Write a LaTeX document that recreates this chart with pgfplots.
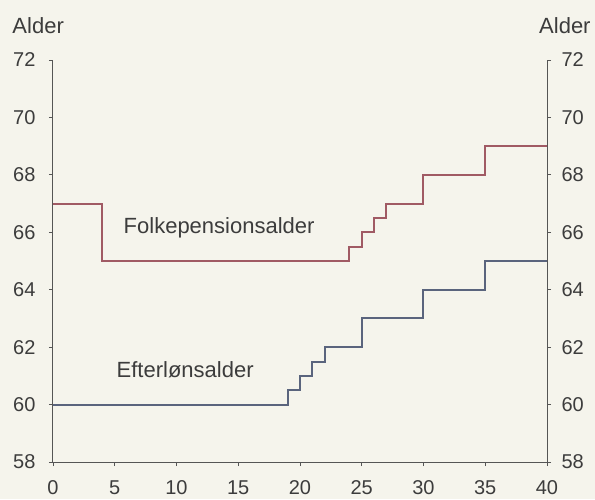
\documentclass[border=0pt]{standalone}
\usepackage{pgfplots}
\pgfplotsset{compat=1.18}
\usepackage{fontspec}
\setmainfont{Liberation Sans}
\definecolor{bg}{RGB}{245,244,236}
\definecolor{folk}{RGB}{160,90,100}
\definecolor{eft}{RGB}{90,100,125}
\definecolor{axc}{RGB}{85,85,85}
\definecolor{txt}{RGB}{60,60,60}
\begin{document}
\begin{tikzpicture}[x=1pt,y=1pt]
\fill[bg] (-53,-37) rectangle (542,462);
\pgfplotsset{
  common/.style={
    scale only axis, width=494pt, height=402pt,
    xmin=0, xmax=40, ymin=58, ymax=72,
    ytick={58,60,...,72},
    tick align=outside, major tick length=4pt,
    every tick/.style={axc, line width=0.8pt},
    axis line style={axc, line width=1pt},
    tick label style={font=\fontsize{20}{24}\selectfont, text=txt},
    /pgf/number format/assume math mode=true,
    clip=false,
  }
}
\begin{axis}[common,
  axis x line*=bottom, axis y line*=left,
  xtick={0,5,...,40},
  xticklabel style={yshift=-11pt},
  yticklabel style={xshift=-10pt},
]
\addplot[folk, line width=2pt, const plot, line join=miter] coordinates {
 (0,67) (4,65) (24,65.5) (25,66) (26,66.5) (27,67) (30,68) (35,69) (40,69)};
\addplot[eft, line width=2pt, const plot, line join=miter] coordinates {
 (0,60) (19,60.5) (20,61) (21,61.5) (22,62) (25,63) (30,64) (35,65) (40,65)};
\node[font=\fontsize{22}{26}\selectfont, text=txt] at (axis cs:13.45,66.15) {Folkepensionsalder};
\node[font=\fontsize{22}{26}\selectfont, text=txt] at (axis cs:10.7,61.2) {Efterlønsalder};
\node[font=\fontsize{22}{26}\selectfont, text=txt] at (axis cs:-1.2,73.2) {Alder};
\node[font=\fontsize{22}{26}\selectfont, text=txt] at (axis cs:41.45,73.2) {Alder};
\end{axis}
\begin{axis}[common,
  axis x line=none, axis y line*=right,
  xtick=\empty,
  yticklabel pos=right,
  yticklabel style={xshift=7pt},
]
\end{axis}
\pgfresetboundingbox
\useasboundingbox (-53,-37) rectangle (542,462);
\end{tikzpicture}
\end{document}
